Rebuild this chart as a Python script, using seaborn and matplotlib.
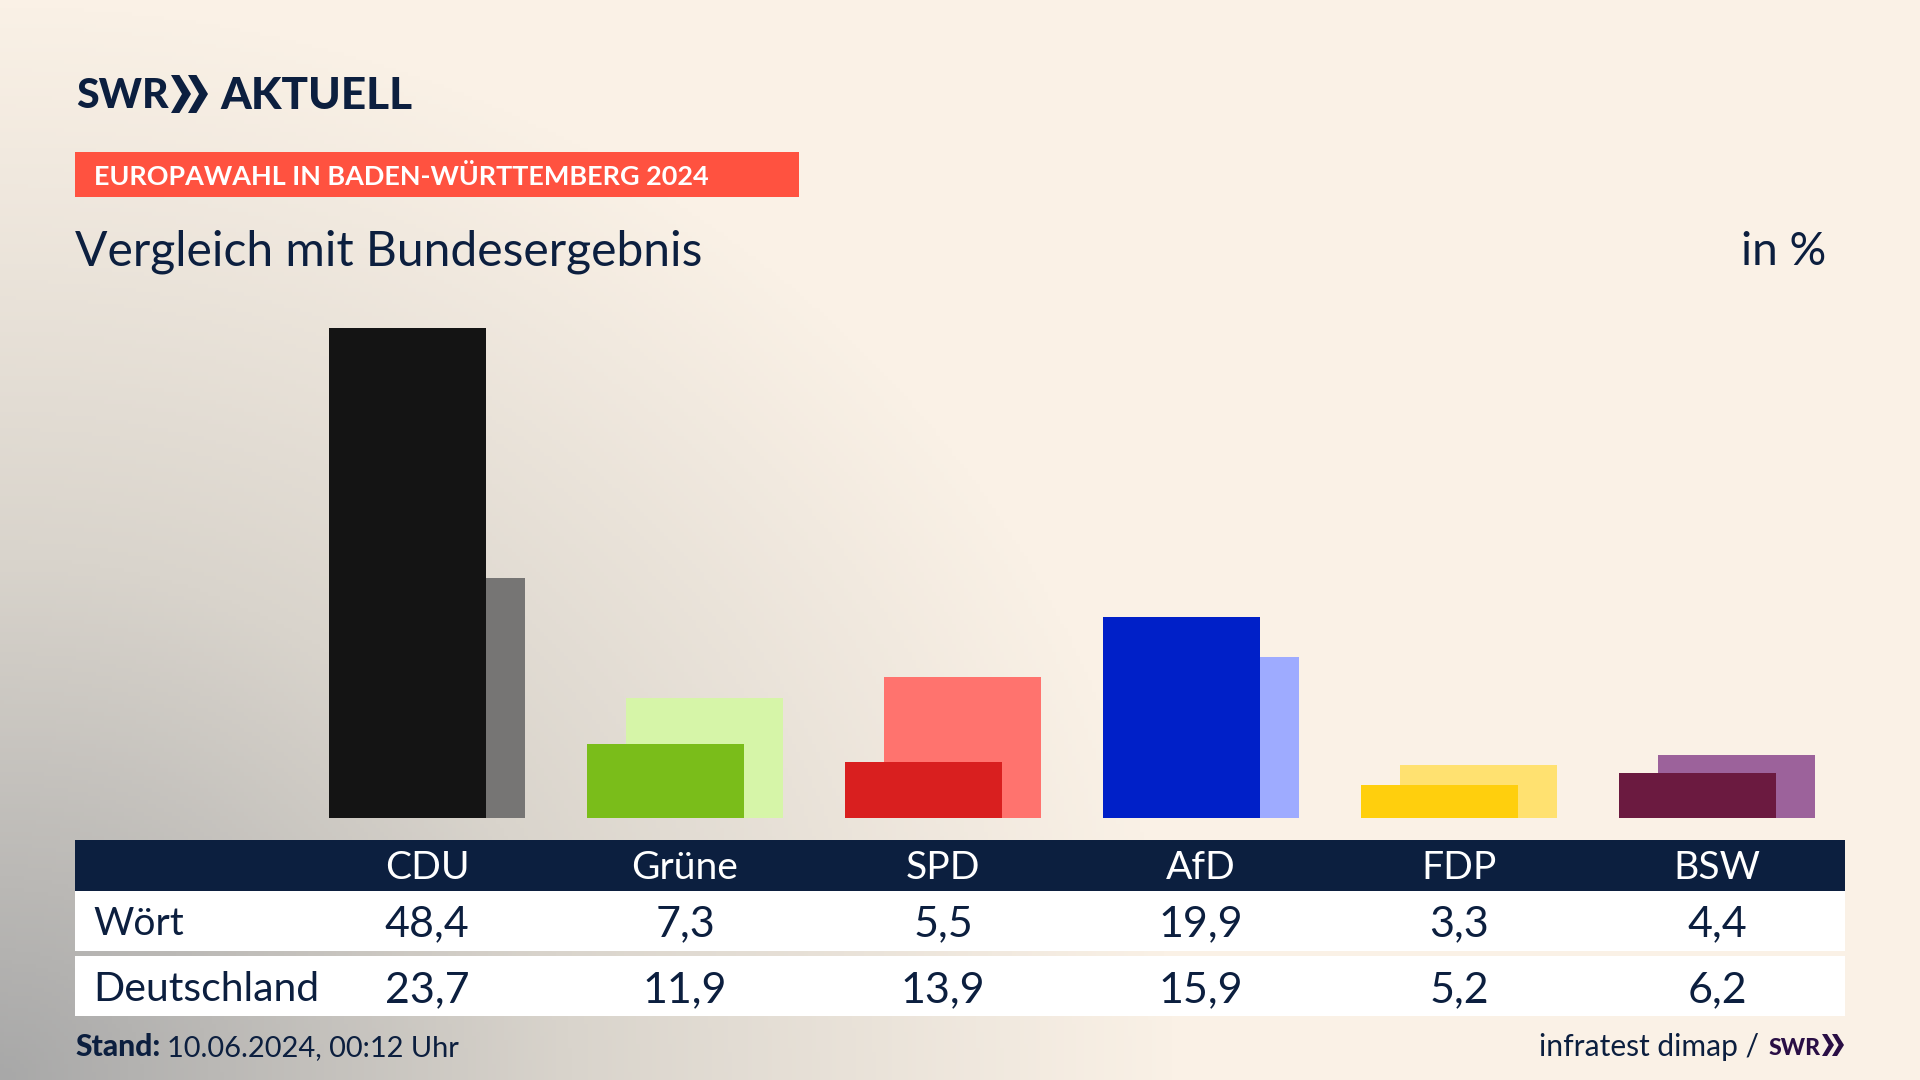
# -*- coding: utf-8 -*-
import numpy as np
import pandas as pd
import matplotlib
matplotlib.use('Agg')
import matplotlib.pyplot as plt
from matplotlib.patches import Rectangle, Polygon
from matplotlib.colors import LinearSegmentedColormap
import seaborn as sns

parties = ['CDU', 'Grüne', 'SPD', 'AfD', 'FDP', 'BSW']
woert = [48.4, 7.3, 5.5, 19.9, 3.3, 4.4]
deutschland = [23.7, 11.9, 13.9, 15.9, 5.2, 6.2]
woert_labels = ['48,4', '7,3', '5,5', '19,9', '3,3', '4,4']
deutschland_labels = ['23,7', '11,9', '13,9', '15,9', '5,2', '6,2']
front_colors = ['#141414', '#7abd1a', '#d91f1f', '#0020c8', '#ffcf0d', '#6b1a40']
back_colors = ['#767574', '#d6f5a8', '#ff736e', '#9eabff', '#ffe170', '#9c629b']

NAVY = '#0c1f3f'
W, H = 1920, 1080
FONT = 'Lato'

sns.set_theme(style='white')
plt.rcParams['font.family'] = [FONT, 'DejaVu Sans']

fig = plt.figure(figsize=(W / 100, H / 100), dpi=100)

# background + table, in pixel coordinates
bg = fig.add_axes([0, 0, 1, 1], zorder=0)
bg.set_xlim(0, W)
bg.set_ylim(H, 0)
bg.axis('off')

yy, xx = np.mgrid[0:H:270j, 0:W:480j]
dist = np.sqrt((xx / 1180) ** 2 + ((H - yy) / 1080) ** 2)
shade = np.clip(1 - dist, 0, 1) ** 1.05
cmap = LinearSegmentedColormap.from_list('bg', ['#faf1e6', '#d9d4cc', '#a8a8a8'])
bg.imshow(shade, cmap=cmap, vmin=0, vmax=1, extent=[0, W, H, 0], aspect='auto', zorder=0)


def chevrons(x, top, bottom, w, gap, color):
    mid = (top + bottom) / 2
    for k in range(2):
        x0 = x + k * gap
        pts = [(x0, top), (x0 + w * 0.42, top), (x0 + w, mid), (x0 + w * 0.42, bottom),
               (x0, bottom), (x0 + w * 0.55, mid)]
        bg.add_patch(Polygon(pts, closed=True, color=color, lw=0, zorder=3))


def txt(x, y, s, size, color=NAVY, ha='left', va='baseline', weight='normal'):
    bg.text(x, y, s, fontsize=size * 0.72, color=color, ha=ha, va=va, weight=weight, zorder=4)


# header
txt(76, 108, 'SWR', 41, weight='black')
chevrons(171, 75, 113, 20, 17, NAVY)
txt(220, 109, 'AKTUELL', 44, weight='black')

bg.add_patch(Rectangle((75, 152), 724, 45, color='#ff5240', lw=0, zorder=2))
txt(94, 185, 'EUROPAWAHL IN BADEN-WÜRTTEMBERG 2024', 27, color='white', weight='bold')
txt(75, 265, 'Vergleich mit Bundesergebnis', 48)
txt(1826, 265, 'in %', 46, ha='right')

# table
centers = [427 + 258 * i for i in range(len(parties))]
bg.add_patch(Rectangle((75, 840), 1770, 51, color=NAVY, lw=0, zorder=2))
bg.add_patch(Rectangle((75, 891), 1770, 60, color='white', lw=0, zorder=2))
bg.add_patch(Rectangle((75, 956), 1770, 60, color='white', lw=0, zorder=2))
txt(93, 935, 'Wört', 39)
txt(93, 1001, 'Deutschland', 41)
for c, p, a, b in zip(centers, parties, woert_labels, deutschland_labels):
    txt(c, 879, p, 39, color='white', ha='center')
    txt(c, 936, a, 43, ha='center')
    txt(c, 1002, b, 43, ha='center')

# footer
txt(75, 1056, 'Stand:', 30, weight='black')
txt(167, 1056, '10.06.2024, 00:12 Uhr', 29)
txt(1759, 1056, 'infratest dimap /', 30, ha='right')
txt(1769, 1055, 'SWR', 23, color='#2a0f45', weight='black')
chevrons(1822, 1034, 1056, 12, 10, '#2a0f45')

# bars: pixel scale is 258 px per party and 10.12 px per percent point
left_px, right_px, base_px = 220, 1840, 818
top_px = base_px - 50 * 10.12
ax = fig.add_axes([left_px / W, 1 - base_px / H, (right_px - left_px) / W, (base_px - top_px) / H], zorder=1)
ax.patch.set_visible(False)

pos = np.arange(len(parties))
back_df = pd.DataFrame({'pos': pos + 39 / 2 / 258, 'party': parties, 'value': deutschland})
front_df = pd.DataFrame({'pos': pos - 39 / 2 / 258, 'party': parties, 'value': woert})
bar_w = 157 / 258
sns.barplot(data=back_df, x='pos', y='value', hue='party', palette=back_colors, native_scale=True,
            dodge=False, width=bar_w, gap=0, legend=False, ax=ax, saturation=1, linewidth=0)
sns.barplot(data=front_df, x='pos', y='value', hue='party', palette=front_colors, native_scale=True,
            dodge=False, width=bar_w, gap=0, legend=False, ax=ax, saturation=1, linewidth=0)
ax.set_xlim((left_px - 426.8) / 258, (right_px - 426.8) / 258)
ax.set_ylim(0, 50)
ax.axis('off')

fig.savefig('out.png', dpi=100)
